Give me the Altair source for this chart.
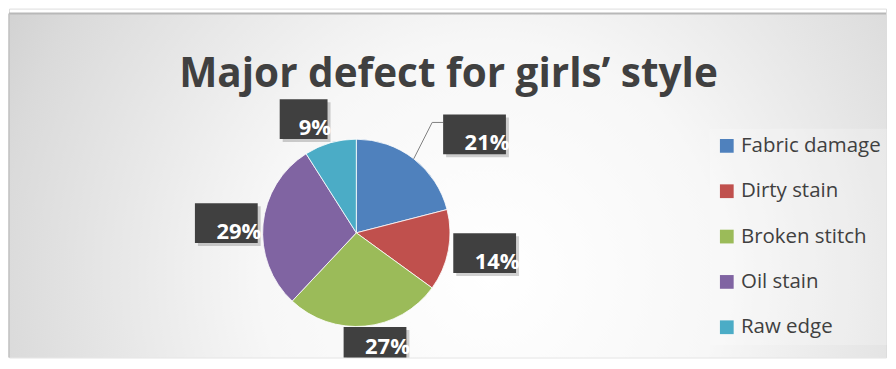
import altair as alt
import pandas as pd

# ---- data ----
categories = ["Fabric damage", "Dirty stain", "Broken stitch", "Oil stain", "Raw edge"]
values = [21, 14, 27, 29, 9]
labels = ["21%", "14%", "27%", "29%", "9%"]
title_text = "Major defect for girls\u2019 style"

# ---- styling ----
colors = ["#4F81BD", "#C0504D", "#9BBB59", "#8064A2", "#4BACC6"]
# label-box nudges (pixels) relative to the default outside position
nudge_x = [42, 6, 7, -6, -18]
nudge_y = [0, -3, -10, 2, 6]

W, H = 880, 350
CX, CY, R = 348.5, 225, 94
LR = 125  # radius of label anchor

df = pd.DataFrame({
    "category": categories,
    "value": values,
    "label": labels,
    "order": list(range(len(categories))),
    "nx": nudge_x,
    "ny": nudge_y,
})

base = alt.Chart(df).transform_joinaggregate(
    total="sum(value)"
).transform_window(
    cum="sum(value)", sort=[alt.SortField("order")], frame=[None, 0]
).transform_calculate(
    mid="(datum.cum - datum.value/2) / datum.total * 2 * PI"
).transform_calculate(
    ex=f"{CX} + {R}*sin(datum.mid)",
    ey=f"{CY} - {R}*cos(datum.mid)",
    bx=f"{CX} + {LR}*sin(datum.mid) + datum.nx",
    by=f"{CY} - {LR}*cos(datum.mid) + datum.ny",
    bw="18 + 15*length(datum.label)",
).transform_calculate(
    x1="datum.bx - datum.bw/2",
    x2="datum.bx + datum.bw/2",
    y1="datum.by - 20",
    y2="datum.by + 20",
).transform_calculate(
    tx="datum.x2 + 3.5",
    ty=f"min(datum.y1 + 36, {H} - 3)",
    sx1="datum.x1 + 3", sx2="datum.x2 + 3",
    sy1="datum.y1 + 3", sy2="datum.y2 + 3",
    kx="datum.x1 - 11", ky="datum.y1 + 8",
)

bg = alt.Chart(pd.DataFrame({"a": [0]})).mark_rect(
    fill=alt.Gradient(
        gradient="radial",
        stops=[
            alt.GradientStop(color="#ffffff", offset=0),
            alt.GradientStop(color="#f7f7f7", offset=0.35),
            alt.GradientStop(color="#dadada", offset=0.75),
            alt.GradientStop(color="#c2c2c2", offset=1),
        ],
        x1=0.55, y1=0.6, r1=0, x2=0.55, y2=0.6, r2=0.75,
    ),
).encode(x=alt.value(0), x2=alt.value(W), y=alt.value(5), y2=alt.value(H))

border = alt.Chart(pd.DataFrame({"a": [0]})).mark_rule(
    color="#b8b8b8", strokeWidth=2
).encode(x=alt.value(0), x2=alt.value(W), y=alt.value(5))
border_l = alt.Chart(pd.DataFrame({"a": [0]})).mark_rule(
    color="#c0c0c0", strokeWidth=1.5
).encode(x=alt.value(0), y=alt.value(5), y2=alt.value(H))

pie = alt.Chart(df).mark_arc(radius=R, stroke="#ffffff", strokeWidth=0.8).encode(
    theta=alt.Theta("value:Q", stack=True),
    color=alt.Color(
        "category:N",
        scale=alt.Scale(domain=categories, range=colors),
        sort=categories,
        legend=alt.Legend(
            title=None, orient="none", legendX=703, legendY=120.5,
            symbolType="square", symbolSize=190, symbolStrokeWidth=0,
            labelFont="Open Sans", labelFontSize=20.5, labelColor="#404040",
            rowPadding=24.5, labelOffset=4, padding=7,
            fillColor="rgba(255,255,255,0.22)",
        ),
    ),
    order=alt.Order("order:Q"),
    x=alt.value(CX), y=alt.value(CY),
)

shadow = base.mark_rect(fill="#000000", opacity=0.18, clip=True).encode(
    x=alt.X("sx1:Q", scale=None, axis=None), x2="sx2:Q",
    y=alt.Y("sy1:Q", scale=None, axis=None), y2="sy2:Q",
)
boxes = base.mark_rect(fill="#404040", clip=True).encode(
    x=alt.X("x1:Q", scale=None, axis=None), x2="x2:Q",
    y=alt.Y("y1:Q", scale=None, axis=None), y2="y2:Q",
)
texts = base.mark_text(
    align="right", baseline="alphabetic", color="#ffffff",
    font="Open Sans", fontWeight="bold", fontSize=22, clip=True,
).encode(
    x=alt.X("tx:Q", scale=None, axis=None),
    y=alt.Y("ty:Q", scale=None, axis=None),
    text="label:N",
)

leader = base.transform_filter(alt.datum.category == "Fabric damage")
lead1 = leader.mark_rule(color="#808080", strokeWidth=1).encode(
    x=alt.X("ex:Q", scale=None, axis=None), x2="kx:Q",
    y=alt.Y("ey:Q", scale=None, axis=None), y2="ky:Q",
)
lead2 = leader.mark_rule(color="#808080", strokeWidth=1).encode(
    x=alt.X("kx:Q", scale=None, axis=None), x2="x1:Q",
    y=alt.Y("ky:Q", scale=None, axis=None), y2="ky:Q",
)

title = alt.Chart(pd.DataFrame({"a": [0]})).mark_text(
    text=title_text, font="Open Sans", fontWeight="bold", fontSize=40.6,
    color="#404040", align="center", baseline="alphabetic",
).encode(x=alt.value(441), y=alt.value(79))

chart = alt.layer(bg, border, border_l, title, pie, lead1, lead2, shadow, boxes, texts).properties(
    width=W, height=H, padding=0
).configure_view(stroke=None).configure(background="#ffffff")

chart.save("out.html", embed_options={"renderer": "svg", "actions": False})
